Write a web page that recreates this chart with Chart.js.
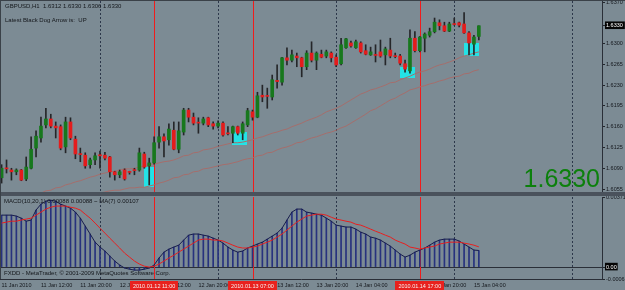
<!DOCTYPE html>
<html><head><meta charset="utf-8">
<script src="https://cdn.jsdelivr.net/npm/chart.js@4.4.1/dist/chart.umd.min.js"></script>
<style>
html,body{margin:0;padding:0;width:625px;height:290px;overflow:hidden;background:#7c8b94;font-family:"Liberation Sans",Arial,sans-serif;}
#wrap{position:relative;width:625px;height:290px;}
canvas{position:absolute;left:0;}
#c1{top:0;}
#c2{top:196px;}
.t{position:absolute;font-size:6px;line-height:6px;color:#14171b;white-space:nowrap;z-index:5;}
#sep{position:absolute;left:0;top:192px;width:625px;height:4px;background:#4a525c;}
#topb{position:absolute;left:0;top:0;width:625px;height:1px;background:#3a4148;z-index:4;}
#leftb{position:absolute;left:0;top:0;width:1px;height:279px;background:#3a4148;z-index:4;}
#big{position:absolute;right:25px;top:166px;font-size:25px;line-height:25px;color:#0c800c;z-index:5;white-space:nowrap;}
</style></head>
<body><div id="wrap">
<canvas id="c1" width="625" height="192"></canvas>
<div id="sep"></div>
<canvas id="c2" width="625" height="94"></canvas>
<div id="topb"></div><div id="leftb"></div>
<div class="t" style="left:5px;top:3px;">GBPUSD,H1&nbsp; 1.6312 1.6330 1.6306 1.6330</div>
<div class="t" style="left:5px;top:16.5px;">Latest Black Dog Arrow is:&nbsp; UP</div>
<div class="t" style="left:4px;top:198px;">MACD(10,20,1) 0.00088 0.00088 ~ MA(7) 0.00107</div>
<div class="t" style="left:4px;top:270px;">FXDD - MetaTrader, © 2001-2009 MetaQuotes Software Corp.</div>
<div id="big">1.6330</div>
</div>
<script>
// ---------- data ----------
const timeTickBars = [0,8,16,24,32,40,48,56,64,72,80,88,96];
const timeTickLabels = ['11 Jan 2010','11 Jan 12:00','11 Jan 20:00','12 Jan 04:00','12 Jan 12:00','12 Jan 20:00','13 Jan 04:00','13 Jan 12:00','13 Jan 20:00','14 Jan 04:00','14 Jan 12:00','14 Jan 20:00','15 Jan 04:00'];
const daySeparatorBars = [20,44,68,92,116];
const eventBars = [31,51,85];
const eventLabels = ['2010.01.12 11:00','2010.01.13 07:00','2010.01.14 17:00'];

const openP = [1.6074,1.6090,1.6087,1.6084,1.6087,1.6072,1.6090,1.6124,1.6141,1.6163,
1.6173,1.6161,1.6160,1.6126,1.6168,1.6139,1.6114,1.6112,1.6096,1.6104,
1.6112,1.6112,1.6109,1.6084,1.6079,1.6087,1.6084,1.6087,1.6087,1.6114,
1.6094,1.6099,1.6134,1.6143,1.6138,1.6154,1.6122,1.6151,1.6188,1.6176,
1.6167,1.6166,1.6175,1.6165,1.6161,1.6166,1.6149,1.6149,1.6160,1.6149,
1.6163,1.6185,1.6176,1.6213,1.6212,1.6210,1.6238,1.6235,1.6276,1.6272,
1.6279,1.6276,1.6261,1.6284,1.6272,1.6282,1.6279,1.6284,1.6277,1.6266,
1.6293,1.6301,1.6293,1.6301,1.6288,1.6281,1.6281,1.6286,1.6281,1.6289,
1.6279,1.6279,1.6266,1.6254,1.6309,1.6288,1.6309,1.6314,1.6320,1.6335,
1.6330,1.6321,1.6333,1.6335,1.6333,1.6318,1.6299,1.6312];
const highP = [1.6096,1.6104,1.6090,1.6089,1.6088,1.6109,1.6143,1.6153,1.6176,1.6191,
1.6181,1.6168,1.6163,1.6176,1.6175,1.6144,1.6124,1.6116,1.6107,1.6116,
1.6119,1.6117,1.6110,1.6085,1.6087,1.6089,1.6085,1.6090,1.6124,1.6117,
1.6107,1.6143,1.6160,1.6148,1.6165,1.6168,1.6168,1.6191,1.6191,1.6183,
1.6175,1.6176,1.6176,1.6168,1.6170,1.6168,1.6160,1.6161,1.6161,1.6168,
1.6191,1.6188,1.6218,1.6230,1.6225,1.6247,1.6264,1.6277,1.6293,1.6289,
1.6284,1.6277,1.6288,1.6303,1.6286,1.6289,1.6289,1.6286,1.6281,1.6309,
1.6309,1.6304,1.6306,1.6303,1.6298,1.6294,1.6298,1.6306,1.6294,1.6309,
1.6284,1.6282,1.6272,1.6323,1.6320,1.6312,1.6318,1.6326,1.6343,1.6340,
1.6336,1.6336,1.6343,1.6336,1.6352,1.6320,1.6314,1.6330];
const lowP = [1.6065,1.6082,1.6070,1.6079,1.6069,1.6069,1.6089,1.6109,1.6134,1.6158,
1.6158,1.6141,1.6121,1.6116,1.6138,1.6106,1.6101,1.6090,1.6090,1.6096,
1.6090,1.6104,1.6075,1.6070,1.6074,1.6070,1.6080,1.6079,1.6085,1.6090,
1.6062,1.6097,1.6124,1.6109,1.6129,1.6121,1.6116,1.6146,1.6168,1.6163,
1.6149,1.6163,1.6160,1.6156,1.6158,1.6144,1.6146,1.6133,1.6146,1.6138,
1.6160,1.6171,1.6175,1.6202,1.6191,1.6205,1.6225,1.6230,1.6264,1.6269,
1.6261,1.6244,1.6256,1.6269,1.6256,1.6276,1.6276,1.6269,1.6261,1.6264,
1.6292,1.6294,1.6292,1.6284,1.6281,1.6280,1.6269,1.6277,1.6264,1.6276,
1.6276,1.6264,1.6252,1.6250,1.6286,1.6286,1.6286,1.6311,1.6318,1.6323,
1.6320,1.6320,1.6331,1.6328,1.6317,1.6281,1.6281,1.6306];
const closeP = [1.6090,1.6089,1.6084,1.6087,1.6070,1.6092,1.6122,1.6144,1.6161,1.6173,
1.6161,1.6158,1.6124,1.6168,1.6141,1.6114,1.6113,1.6094,1.6104,1.6111,
1.6111,1.6107,1.6084,1.6079,1.6084,1.6072,1.6083,1.6086,1.6116,1.6092,
1.6099,1.6133,1.6143,1.6136,1.6156,1.6122,1.6153,1.6188,1.6176,1.6166,
1.6166,1.6173,1.6163,1.6161,1.6166,1.6146,1.6148,1.6160,1.6149,1.6165,
1.6187,1.6176,1.6212,1.6210,1.6211,1.6239,1.6236,1.6276,1.6272,1.6281,
1.6276,1.6261,1.6284,1.6272,1.6284,1.6277,1.6286,1.6276,1.6264,1.6298,
1.6308,1.6296,1.6303,1.6286,1.6282,1.6286,1.6280,1.6279,1.6291,1.6279,
1.6278,1.6267,1.6257,1.6309,1.6288,1.6311,1.6316,1.6320,1.6336,1.6330,
1.6321,1.6333,1.6332,1.6331,1.6318,1.6301,1.6311,1.6330];

const maFast = [null,null,null,null,null,null,null,null,1.6048,1.6052,
1.6053,1.6057,1.6058,1.6062,1.6064,1.6067,1.6069,1.6072,1.6075,1.6077,
1.6080,1.6082,1.6084,1.6085,1.6087,1.6089,1.6089,1.6090,1.6092,1.6094,
1.6097,1.6097,1.6099,1.6101,1.6102,1.6104,1.6107,1.6111,1.6112,1.6116,
1.6117,1.6121,1.6122,1.6124,1.6127,1.6129,1.6131,1.6133,1.6133,1.6134,
1.6136,1.6138,1.6141,1.6143,1.6146,1.6149,1.6151,1.6154,1.6156,1.6160,
1.6163,1.6166,1.6170,1.6173,1.6176,1.6180,1.6185,1.6188,1.6191,1.6195,
1.6200,1.6205,1.6210,1.6215,1.6218,1.6222,1.6224,1.6227,1.6230,1.6234,
1.6235,1.6239,1.6242,1.6245,1.6249,1.6252,1.6254,1.6257,1.6261,1.6264,
1.6266,1.6269,1.6272,1.6276,1.6279,1.6281,1.6284,1.6286];
const maSlow = [null,null,null,null,null,null,null,null,null,null,
null,null,null,null,null,null,null,null,null,null,
1.6048,1.6050,1.6052,1.6053,1.6053,1.6055,1.6057,1.6057,1.6058,1.6058,
1.6060,1.6062,1.6065,1.6067,1.6070,1.6074,1.6075,1.6079,1.6080,1.6084,
1.6085,1.6089,1.6090,1.6092,1.6094,1.6096,1.6097,1.6099,1.6101,1.6104,
1.6106,1.6107,1.6111,1.6112,1.6116,1.6117,1.6121,1.6124,1.6126,1.6129,
1.6133,1.6134,1.6138,1.6141,1.6143,1.6146,1.6149,1.6151,1.6154,1.6158,
1.6161,1.6166,1.6171,1.6176,1.6181,1.6187,1.6190,1.6195,1.6200,1.6205,
1.6208,1.6213,1.6217,1.6222,1.6224,1.6227,1.6229,1.6232,1.6234,1.6237,
1.6239,1.6242,1.6244,1.6245,1.6249,1.6250,1.6254,1.6256];

const arrowFirstBar = [29,47,81,94];
const arrowLastBar = [30,49,83,96];
const arrowTop = [1.6092,1.6151,1.6261,1.6301];
const arrowBottom = [1.6058,1.6129,1.6242,1.6279];

const macdMain = [0.00275,0.00275,0.00275,0.00270,0.00259,0.00243,0.00249,0.00302,0.00333,0.00349,
0.00354,0.00349,0.00333,0.00323,0.00312,0.00291,0.00259,0.00217,0.00175,0.00132,
0.00106,0.00085,0.00058,0.00032,0.00011,-0.00005,-0.00011,-0.00016,-0.00016,-0.00011,
-0.00005,0.00011,0.00048,0.00079,0.00095,0.00106,0.00116,0.00143,0.00169,0.00175,
0.00175,0.00169,0.00164,0.00153,0.00143,0.00127,0.00106,0.00090,0.00079,0.00085,
0.00101,0.00111,0.00122,0.00132,0.00148,0.00164,0.00180,0.00206,0.00249,0.00291,
0.00307,0.00307,0.00291,0.00286,0.00280,0.00275,0.00259,0.00243,0.00222,0.00217,
0.00212,0.00212,0.00201,0.00185,0.00175,0.00159,0.00153,0.00143,0.00127,0.00111,
0.00090,0.00069,0.00053,0.00063,0.00079,0.00090,0.00101,0.00116,0.00132,0.00143,
0.00148,0.00148,0.00148,0.00138,0.00122,0.00106,0.00090,0.00088];
const macdSignal = [0.00233,0.00238,0.00243,0.00243,0.00249,0.00254,0.00259,0.00275,0.00291,0.00307,
0.00317,0.00323,0.00323,0.00323,0.00317,0.00312,0.00302,0.00280,0.00259,0.00233,
0.00206,0.00180,0.00153,0.00127,0.00101,0.00074,0.00053,0.00032,0.00016,0.00005,
0.00000,0.00005,0.00016,0.00032,0.00048,0.00063,0.00079,0.00095,0.00111,0.00127,
0.00143,0.00148,0.00148,0.00143,0.00143,0.00138,0.00127,0.00116,0.00106,0.00101,
0.00101,0.00106,0.00111,0.00122,0.00132,0.00143,0.00159,0.00175,0.00196,0.00217,
0.00238,0.00254,0.00270,0.00275,0.00280,0.00280,0.00275,0.00264,0.00254,0.00249,
0.00243,0.00238,0.00227,0.00222,0.00212,0.00201,0.00190,0.00180,0.00169,0.00159,
0.00143,0.00132,0.00122,0.00106,0.00101,0.00095,0.00101,0.00106,0.00111,0.00122,
0.00127,0.00132,0.00132,0.00132,0.00127,0.00122,0.00116,0.00107];

const priceTicks = [1.6055,1.6090,1.6125,1.6160,1.6195,1.6230,1.6265,1.6300,1.6370];
const macdTicks = [0.00371,0,-0.00063];

// ---------- layout ----------
const X_MIN = -0.325, X_MAX = 122.03;
const Y_MIN = 1.6050, Y_MAX = 1.63717;
const M_MIN = -0.00063, M_MAX = 0.00371;
const lastPrice = closeP[closeP.length-1];
const FONT = {family:'"Liberation Sans", Arial, sans-serif', size:5.5};
const TXT = '#15181d';

const idx = openP.map((_, i) => i);
const wickData = idx.map(i => ({x:i, y:[lowP[i], highP[i]]}));
const bodyData = idx.map(i => ({x:i, y:[openP[i], closeP[i]]}));
const bodyColors = idx.map(i => closeP[i] > openP[i] ? '#17781d' : (closeP[i] < openP[i] ? '#e41c1c' : '#1e1e1e'));
const toPts = arr => idx.filter(i => arr[i] != null).map(i => ({x:i, y:arr[i]}));

function vline(ctx, area, px, color){
  ctx.save();
  ctx.strokeStyle = color; ctx.lineWidth = 1;
  const p = Math.round(px) + 0.5;
  ctx.beginPath(); ctx.moveTo(p, area.top); ctx.lineTo(p, area.bottom); ctx.stroke();
  ctx.restore();
}

const mainDecor = {
  id:'mainDecor',
  beforeDatasetsDraw(chart){
    const {ctx, chartArea:a, scales:{x, y}} = chart;
    ctx.save();
    ctx.beginPath(); ctx.rect(a.left, a.top, a.right - a.left, a.bottom - a.top); ctx.clip();
    eventBars.forEach(b => vline(ctx, a, x.getPixelForValue(b), '#f01c1c'));
    ctx.fillStyle = '#24e2e6';
    arrowFirstBar.forEach((f, k) => {
      const x0 = x.getPixelForValue(f - 0.1), x1 = x.getPixelForValue(arrowLastBar[k] + 0.9);
      const y0 = y.getPixelForValue(arrowTop[k]), y1 = y.getPixelForValue(arrowBottom[k]);
      ctx.fillRect(Math.round(x0), Math.round(y0), Math.round(x1 - x0), Math.round(y1 - y0));
    });
    ctx.restore();
  }
};

const macdDecor = {
  id:'macdDecor',
  beforeDatasetsDraw(chart){
    const {ctx, chartArea:a, scales:{x}} = chart;
    eventBars.forEach(b => vline(ctx, a, x.getPixelForValue(b), '#f01c1c'));
  },
  afterDraw(chart){
    const {ctx, chartArea:a, scales:{x}} = chart;
    ctx.save();
    ctx.font = '5.5px "Liberation Sans", Arial, sans-serif';
    eventBars.forEach((b, k) => {
      const px = x.getPixelForValue(b);
      const w = ctx.measureText(eventLabels[k]).width + 6;
      ctx.fillStyle = '#e8221e';
      ctx.fillRect(Math.round(px - w/2), a.bottom + 2, Math.round(w), chart.height - a.bottom - 2);
      ctx.fillStyle = '#f6f0f0'; ctx.textAlign = 'center'; ctx.textBaseline = 'middle';
      ctx.fillText(eventLabels[k], px, a.bottom + 7);
    });
    ctx.restore();
  }
};

const rightAxisFit = s => { s.width = 23; s.paddingTop = 0; s.paddingBottom = 0; };

new Chart(document.getElementById('c1'), {
  type:'bar',
  data:{datasets:[
    {type:'line', data:toPts(maFast), borderColor:'#a56e6c', borderWidth:1, pointRadius:0, order:5},
    {type:'line', data:toPts(maSlow), borderColor:'#a56e6c', borderWidth:1, pointRadius:0, order:5},
    {type:'bar', data:wickData, backgroundColor:'#252629', barThickness:1, grouped:false, order:2},
    {type:'bar', data:bodyData, backgroundColor:bodyColors, barThickness:3, minBarLength:1, grouped:false, order:1}
  ]},
  options:{
    responsive:false, animation:false, devicePixelRatio:1,
    layout:{padding:{top:1, left:0, right:0, bottom:0}, autoPadding:false},
    plugins:{legend:{display:false}, tooltip:{enabled:false}},
    scales:{
      x:{type:'linear', min:X_MIN, max:X_MAX, position:'bottom', offset:false,
        afterBuildTicks: s => { s.ticks = daySeparatorBars.map(v => ({value:v})); },
        afterFit: s => { s.height = 0; s.paddingLeft = 0; s.paddingRight = 0; },
        ticks:{display:false}, grid:{display:true, offset:false, drawTicks:false, color:'#2c374a', lineWidth:1},
        border:{display:false, dash:[2,2]}},
      y:{type:'linear', position:'right', min:Y_MIN, max:Y_MAX,
        afterBuildTicks: s => { s.ticks = priceTicks.concat([lastPrice]).map(v => ({value:v})); },
        afterFit: rightAxisFit,
        ticks:{autoSkip:false, padding:1, font:FONT,
          color: c => (c.tick && c.tick.value === lastPrice) ? '#ffffff' : TXT,
          showLabelBackdrop: c => !!(c.tick && c.tick.value === lastPrice),
          backdropColor:'#050505', backdropPadding:{top:1, bottom:0, left:1, right:2},
          callback: v => Number(v).toFixed(4)},
        grid:{drawOnChartArea:false, drawTicks:true, tickLength:3, tickColor:'#23272d'},
        border:{display:true, color:'#2a2f38', width:1}}
    }
  },
  plugins:[mainDecor]
});

new Chart(document.getElementById('c2'), {
  type:'bar',
  data:{datasets:[
    {type:'bar', data:toPts(macdMain), backgroundColor:'#27327e', barThickness:1, grouped:false, order:3},
    {type:'line', data:toPts(macdMain), borderColor:'#171c4c', borderWidth:1, pointRadius:0, order:2},
    {type:'line', data:toPts(macdSignal), borderColor:'#e81f1f', borderWidth:1, pointRadius:0, order:1}
  ]},
  options:{
    responsive:false, animation:false, devicePixelRatio:1,
    layout:{padding:{top:1, left:0, right:0, bottom:0}, autoPadding:false},
    plugins:{legend:{display:false}, tooltip:{enabled:false}},
    scales:{
      x:{type:'linear', min:X_MIN, max:X_MAX, position:'bottom', offset:false,
        afterBuildTicks: s => { s.ticks = timeTickBars.map(v => ({value:v})); },
        afterFit: s => { s.height = 11; s.paddingLeft = 0; s.paddingRight = 0; },
        ticks:{autoSkip:false, maxRotation:0, align:'start', padding:3, font:FONT, color:TXT,
          callback: (v, i) => timeTickLabels[i]},
        grid:{display:false, offset:false, drawTicks:false},
        border:{display:true, color:'#2a2f38', width:1}},
      xd:{type:'linear', min:X_MIN, max:X_MAX, position:'top', offset:false,
        afterBuildTicks: s => { s.ticks = daySeparatorBars.map(v => ({value:v})); },
        afterFit: s => { s.height = 0; s.paddingLeft = 0; s.paddingRight = 0; },
        ticks:{display:false}, grid:{display:true, offset:false, drawTicks:false, color:'#2c374a'},
        border:{display:false, dash:[2,2]}},
      y:{type:'linear', position:'right', min:M_MIN, max:M_MAX,
        afterBuildTicks: s => { s.ticks = macdTicks.map(v => ({value:v})); },
        afterFit: rightAxisFit,
        ticks:{autoSkip:false, padding:1, font:FONT,
          color: c => (c.tick && c.tick.value === 0) ? '#ffffff' : TXT,
          showLabelBackdrop: c => !!(c.tick && c.tick.value === 0),
          backdropColor:'#050505', backdropPadding:{top:1, bottom:0, left:1, right:1},
          callback: v => v === 0 ? '0.00' : Number(v).toFixed(5)},
        grid:{drawOnChartArea:true, drawTicks:true, tickLength:3,
          color: c => (c.tick && c.tick.value === 0) ? '#2a2f38' : 'rgba(0,0,0,0)', tickColor:'#23272d'},
        border:{display:true, color:'#2a2f38', width:1}}
    }
  },
  plugins:[macdDecor]
});
</script>
</body></html>
